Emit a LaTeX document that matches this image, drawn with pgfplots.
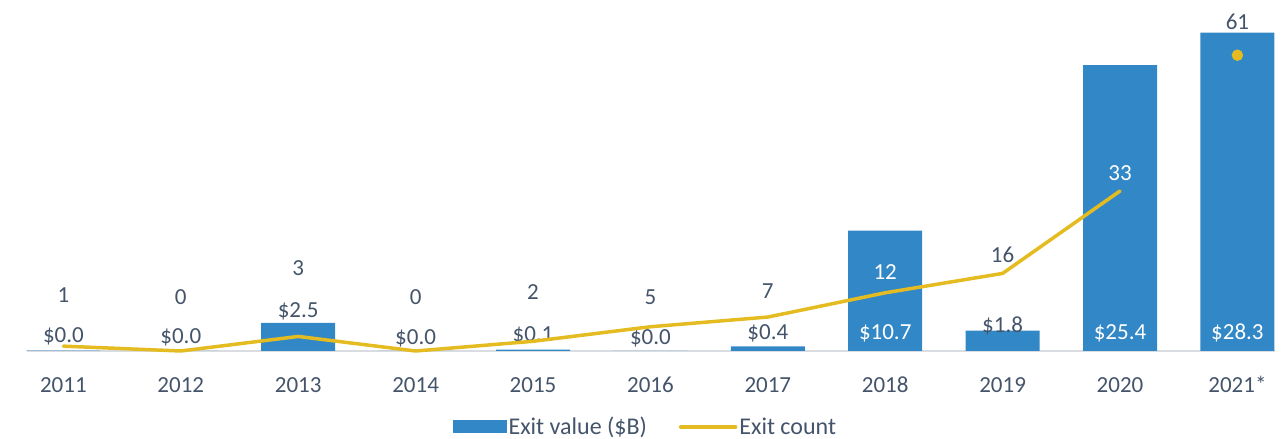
\documentclass[border=0pt]{standalone}
\usepackage{pgfplots}
\pgfplotsset{compat=1.18}
\usepackage{fontspec}
\setmainfont{Carlito}
\definecolor{barblue}{HTML}{3287C7}
\definecolor{lineyel}{HTML}{E4BC22}
\definecolor{txt}{HTML}{44546A}
\definecolor{axgray}{HTML}{D9DDE2}
\newcommand{\lbl}{\fontsize{23}{27}\selectfont}
\newcommand{\lgd}{\fontsize{24}{28}\selectfont}
\begin{document}
\begin{tikzpicture}[x=1pt,y=1pt]
\useasboundingbox (0,0) rectangle (1283,439);
\begin{axis}[
  at={(27pt,88pt)}, anchor=south west,
  scale only axis, width=1248pt, height=337.5pt,
  xmin=-0.31, xmax=10.32, ymin=0, ymax=30,
  axis x line*=bottom, axis y line=none,
  x axis line style={draw=axgray, line width=1.5pt, -},
  xtick={0,1,2,3,4,5,6,7,8,9,10},
  xticklabels={2011,2012,2013,2014,2015,2016,2017,2018,2019,2020,2021*},
  major tick length=0pt,
  xticklabel style={font=\lbl, text=txt, anchor=north, inner sep=0pt, text height=14.5pt, text depth=0pt, yshift=-27pt},
  ytick=\empty,
  clip=false,
  legend style={draw=none, fill=none, font=\lgd, text=txt, legend columns=2,
    at={(0.4955,-0.225)}, anchor=center, inner sep=0pt,
    nodes={inner sep=2pt},
    /tikz/every even column/.append style={column sep=30pt}},
  legend cell align=left,
]
\addplot[ybar, bar width=74pt, bar shift=0pt, fill=barblue, draw=none,
  legend image code/.code={\fill[barblue] (0pt,-6.5pt) rectangle (54pt,6.5pt);}]
  coordinates {(0,0.04)(1,0)(2,2.5)(3,0)(4,0.12)(5,0)(6,0.4)(7,10.7)(8,1.8)(9,25.4)(10,28.3)};
\addlegendentry{Exit value (\$B)}
\addlegendimage{legend image code/.code={\draw[lineyel, line width=3.5pt, line cap=round] (0pt,0pt) -- (55pt,0pt);}}
\addlegendentry{Exit count}
% value labels
\begin{scope}[every node/.style={font=\lbl, text height=14.5pt, text depth=0pt, inner sep=0pt, anchor=center}]
\node[text=txt] at (axis cs:0,1.42) {\$0.0};
\node[text=txt] at (axis cs:1,1.35) {\$0.0};
\node[text=txt] at (axis cs:2,3.64) {\$2.5};
\node[text=txt] at (axis cs:3,1.24) {\$0.0};
\node[text=txt] at (axis cs:4,1.51) {\$0.1};
\node[text=txt] at (axis cs:5,1.24) {\$0.0};
\node[text=txt] at (axis cs:6,1.69) {\$0.4};
\node[text=white] at (axis cs:7,1.69) {\$10.7};
\node[text=txt] at (axis cs:8,2.31) {\$1.8};
\node[text=white] at (axis cs:9,1.69) {\$25.4};
\node[text=white] at (axis cs:10,1.69) {\$28.3};
% count labels
\node[text=txt] at (axis cs:0,4.98) {1};
\node[text=txt] at (axis cs:1,4.8) {0};
\node[text=txt] at (axis cs:2,7.38) {3};
\node[text=txt] at (axis cs:3,4.8) {0};
\node[text=txt] at (axis cs:4,5.24) {2};
\node[text=txt] at (axis cs:5,4.8) {5};
\node[text=txt] at (axis cs:6,5.33) {7};
\node[text=white] at (axis cs:7,7.02) {12};
\node[text=txt] at (axis cs:8,8.53) {16};
\node[text=white] at (axis cs:9,15.82) {33};
\node[text=txt] at (axis cs:10,29.24) {61};
\end{scope}
\end{axis}
\begin{axis}[
  at={(27pt,88pt)}, anchor=south west,
  scale only axis, width=1248pt, height=337.5pt,
  xmin=-0.31, xmax=10.32, ymin=0, ymax=69.6,
  hide axis, clip=false,
]
\addplot[lineyel, line width=3.5pt, line join=round, line cap=round]
  coordinates {(0,1)(1,0)(2,3)(3,0)(4,2)(5,5)(6,7)(7,12)(8,16)(9,33)};
\addplot[only marks, mark=*, mark size=5.5pt, color=lineyel, mark options={draw=none, fill=lineyel}]
  coordinates {(10,61)};
\end{axis}
\end{tikzpicture}
\end{document}
